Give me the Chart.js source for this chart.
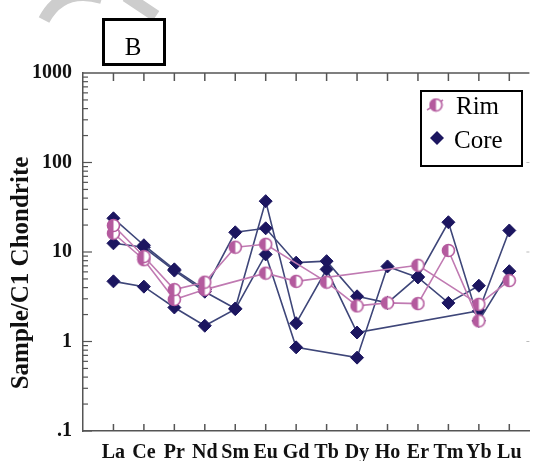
<!DOCTYPE html>
<html>
<head>
<meta charset="utf-8">
<script src="https://cdn.jsdelivr.net/npm/chart.js@4/dist/chart.umd.min.js"></script>
<style>
  html, body { margin: 0; padding: 0; background: #ffffff; }
  #wrap { position: relative; width: 537px; height: 461px; }
</style>
</head>
<body>
<div id="wrap"><canvas id="c"></canvas></div>
<script>
// ---- data ----
const elements = ['La','Ce','Pr','Nd','Sm','Eu','Gd','Tb','Dy','Ho','Er','Tm','Yb','Lu'];
const rim1  = [19.8, 8.9, 3.8, 4.6, 11.3, 12.2, null, 4.6, 2.5, 2.7, 2.65, 10.4, 1.7, null];
const rim2  = [16.2, 8.2, 2.95, 3.8, null, 5.8, 4.7, null, null, null, 7.1, null, 2.6, 4.8];
const core1 = [23.8, 11.9, 6.4, 3.8, 16.6, 18.4, 7.6, 7.9, 3.2, 2.7, 5.3, 21.5, 1.7, 6.1];
const core2 = [12.5, 11.3, 6.2, 3.6, 2.34, 37, 1.6, 6.4, 1.26, null, null, null, 2.2, 17.4];
const core3 = [4.7, 4.1, 2.4, 1.5, 2.3, 9.4, 0.86, null, 0.66, 6.9, 5.2, 2.7, 4.2, null];
const yTickValues = [1000, 100, 10, 1, 0.1];
const yTickLabels = ['1000', '100', '10', '1', '.1'];
const legendLabels = ['Rim', 'Core'];
const panelLabel = 'B';
const yTitle = 'Sample/C1 Chondrite';

// ---- styles ----
const PINK = '#b45a9e';
const PINK_LINE = '#c07ab2';
const NAVY = '#1c1660';
const NAVY_LINE = '#3e4679';
const SERIF = '"Liberation Serif", "Times New Roman", serif';

function rimMarker() {
  const c = document.createElement('canvas');
  c.width = 15; c.height = 15;
  const g = c.getContext('2d');
  g.fillStyle = '#ffffff';
  g.beginPath(); g.arc(7.5, 7.5, 6, 0, Math.PI * 2); g.fill();
  g.fillStyle = PINK;
  g.beginPath(); g.arc(7.5, 7.5, 6, Math.PI / 2, Math.PI * 1.5); g.closePath(); g.fill();
  g.strokeStyle = PINK; g.lineWidth = 1.6;
  g.beginPath(); g.arc(7.5, 7.5, 6, 0, Math.PI * 2); g.stroke();
  return c;
}
const rimPt = rimMarker();

function toXY(arr) {
  const out = [];
  arr.forEach((v, i) => { if (v !== null) out.push({ x: i + 1, y: v }); });
  return out;
}
function rimDs(arr) {
  return { data: toXY(arr), borderColor: PINK_LINE, borderWidth: 1.6,
    pointStyle: rimPt, pointRadius: 6, pointHoverRadius: 6, fill: false, tension: 0 };
}
function coreDs(arr) {
  return { data: toXY(arr), borderColor: NAVY_LINE, borderWidth: 1.6,
    pointStyle: 'rectRot', pointRadius: 6.5, pointHoverRadius: 6.5,
    pointBackgroundColor: NAVY, pointBorderColor: NAVY, pointBorderWidth: 1,
    fill: false, tension: 0 };
}

const decor = {
  id: 'decor',
  beforeDraw(chart) {
    // faint watermark strokes at the top-left
    const ctx = chart.ctx;
    ctx.save();
    ctx.strokeStyle = '#cdcdcd'; ctx.lineWidth = 12; ctx.lineCap = 'butt';
    ctx.beginPath(); ctx.moveTo(44, 20); ctx.quadraticCurveTo(62, -14, 102, -2); ctx.stroke();
    ctx.beginPath(); ctx.moveTo(126, -4); ctx.lineTo(156, 16); ctx.stroke();
    ctx.restore();
  },
  afterDraw(chart) {
    const ctx = chart.ctx;
    const a = chart.chartArea;
    const xs = chart.scales.x, ys = chart.scales.y;
    ctx.save();
    // top frame line
    ctx.strokeStyle = '#555'; ctx.lineWidth = 1.5;
    ctx.beginPath(); ctx.moveTo(a.left, a.top); ctx.lineTo(a.right, a.top); ctx.stroke();
    // x ticks (inward on bottom and top)
    for (let i = 1; i <= elements.length; i++) {
      const px = xs.getPixelForValue(i);
      ctx.beginPath(); ctx.moveTo(px, a.bottom); ctx.lineTo(px, a.bottom - 7); ctx.stroke();
      ctx.beginPath(); ctx.moveTo(px, a.top); ctx.lineTo(px, a.top + 8); ctx.stroke();
    }
    // y ticks (major and minor, inward)
    ctx.lineWidth = 1.2;
    for (let e = -1; e <= 2; e++) {
      for (let m = 1; m <= 9; m++) {
        const v = m * Math.pow(10, e);
        const py = ys.getPixelForValue(v);
        const len = m === 1 ? 9 : 5;
        ctx.beginPath(); ctx.moveTo(a.left, py); ctx.lineTo(a.left + len, py); ctx.stroke();
      }
    }
    // faint right-side ticks
    ctx.strokeStyle = '#bbb'; ctx.lineWidth = 1;
    [100, 10, 1].forEach(v => {
      const py = ys.getPixelForValue(v);
      ctx.beginPath(); ctx.moveTo(a.right - 3, py); ctx.lineTo(a.right, py); ctx.stroke();
    });

    // y-axis title
    ctx.fillStyle = '#111';
    ctx.font = 'bold 25px ' + SERIF;
    ctx.textAlign = 'center'; ctx.textBaseline = 'middle';
    ctx.translate(22, 273); ctx.rotate(-Math.PI / 2);
    ctx.fillText(yTitle, 0, 0);
    ctx.setTransform(1, 0, 0, 1, 0, 0);

    // panel label box
    ctx.strokeStyle = '#000'; ctx.lineWidth = 3;
    ctx.strokeRect(103.5, 19.5, 61, 45);
    ctx.fillStyle = '#000';
    ctx.font = '25px ' + SERIF;
    ctx.textAlign = 'center'; ctx.textBaseline = 'alphabetic';
    ctx.fillText(panelLabel, 133, 55);

    // legend
    ctx.lineWidth = 2; ctx.strokeStyle = '#000';
    ctx.strokeRect(421, 91, 101, 75);
    ctx.strokeStyle = PINK_LINE; ctx.lineWidth = 1.6;
    ctx.beginPath(); ctx.moveTo(427, 110); ctx.lineTo(443, 100); ctx.stroke();
    ctx.drawImage(rimPt, 436 - 7.5, 105 - 7.5);
    ctx.fillStyle = NAVY;
    ctx.beginPath();
    ctx.moveTo(437, 131); ctx.lineTo(444, 138); ctx.lineTo(437, 145); ctx.lineTo(430, 138);
    ctx.closePath(); ctx.fill();
    ctx.fillStyle = '#000';
    ctx.font = '25px ' + SERIF;
    ctx.textAlign = 'left'; ctx.textBaseline = 'alphabetic';
    ctx.fillText(legendLabels[0], 456, 114);
    ctx.fillText(legendLabels[1], 454, 148);
    ctx.restore();
  }
};

new Chart(document.getElementById('c'), {
  type: 'line',
  data: { datasets: [rimDs(rim1), rimDs(rim2), coreDs(core1), coreDs(core2), coreDs(core3)] },
  options: {
    responsive: true, maintainAspectRatio: false, animation: false,
    layout: { padding: { top: 73, right: 1, left: 0, bottom: 0 } },
    plugins: { legend: { display: false }, tooltip: { enabled: false }, title: { display: false } },
    scales: {
      x: {
        type: 'linear', min: 0, max: 14.66, position: 'bottom',
        afterBuildTicks: s => { s.ticks = elements.map((e, i) => ({ value: i + 1 })); },
        afterFit: s => { s.height = 30; },
        ticks: {
          callback: v => elements[Math.round(v) - 1],
          font: { family: SERIF, weight: 'bold', size: 20 }, color: '#111',
          padding: 10, autoSkip: false, maxRotation: 0
        },
        grid: { display: false, drawTicks: false },
        border: { display: true, color: '#555', width: 1.5 }
      },
      y: {
        type: 'logarithmic', min: 0.1, max: 1000, position: 'left',
        afterBuildTicks: s => { s.ticks = yTickValues.map(v => ({ value: v })); },
        afterFit: s => { s.width = 83; },
        ticks: {
          callback: v => yTickLabels[yTickValues.indexOf(v)],
          font: { family: SERIF, weight: 'bold', size: 20 }, color: '#111',
          padding: 11
        },
        grid: { display: false, drawTicks: false },
        border: { display: true, color: '#555', width: 1.5 }
      }
    }
  },
  plugins: [decor]
});
</script>
</body>
</html>
